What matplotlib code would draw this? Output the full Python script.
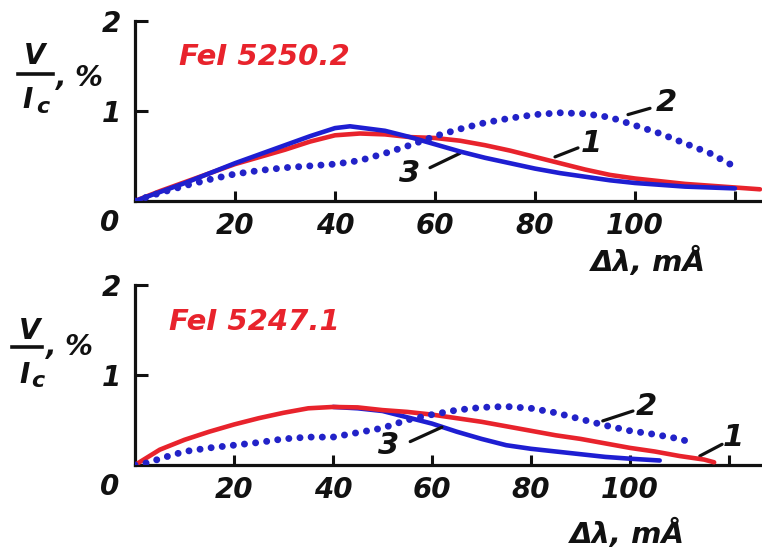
import numpy as np
import matplotlib
matplotlib.use("Agg")
import matplotlib.pyplot as plt
from matplotlib.lines import Line2D

# =========================
# Data
# =========================
# Top panel: FeI 5250.2
x_top_1 = [0, 5, 10, 15, 20, 25, 30, 35, 40, 45, 50, 55, 60, 65, 70, 75, 80,
           85, 90, 95, 100, 105, 110, 115, 120, 125]
y_top_1 = [0, 0.11, 0.21, 0.31, 0.41, 0.49, 0.57, 0.66, 0.73, 0.75, 0.74, 0.71,
           0.70, 0.67, 0.62, 0.56, 0.49, 0.42, 0.35, 0.29, 0.25, 0.22, 0.19,
           0.17, 0.15, 0.13]
x_top_3 = [0, 5, 10, 15, 20, 25, 30, 35, 40, 43, 50, 55, 60, 65, 70, 75, 80,
           85, 90, 95, 100, 105, 110, 115, 120]
y_top_3 = [0, 0.10, 0.20, 0.31, 0.42, 0.52, 0.62, 0.72, 0.81, 0.83, 0.78, 0.71,
           0.63, 0.55, 0.48, 0.42, 0.36, 0.31, 0.27, 0.23, 0.20, 0.18, 0.16,
           0.15, 0.14]
x_top_2 = [0, 5, 10, 15, 20, 25, 30, 35, 40, 45, 50, 55, 60, 65, 70, 75, 80,
           85, 90, 95, 100, 105, 110, 115, 120]
y_top_2 = [0, 0.09, 0.17, 0.24, 0.30, 0.34, 0.37, 0.39, 0.41, 0.45, 0.53, 0.62,
           0.72, 0.80, 0.87, 0.92, 0.96, 0.98, 0.97, 0.93, 0.84, 0.75, 0.64,
           0.53, 0.38]

# Bottom panel: FeI 5247.1
x_bot_1 = [0, 5, 10, 15, 20, 25, 30, 35, 40, 45, 50, 55, 60, 65, 70, 75, 80,
           85, 90, 95, 100, 105, 110, 115, 117]
y_bot_1 = [0, 0.17, 0.28, 0.37, 0.45, 0.52, 0.58, 0.63, 0.645, 0.64, 0.61,
           0.59, 0.56, 0.52, 0.48, 0.43, 0.38, 0.33, 0.29, 0.24, 0.19, 0.15,
           0.10, 0.06, 0.03]
x_bot_3 = [40, 45, 50, 55, 60, 65, 70, 75, 80, 85, 90, 95, 100, 106]
y_bot_3 = [0.645, 0.63, 0.60, 0.53, 0.46, 0.37, 0.29, 0.22, 0.18, 0.15, 0.12,
           0.09, 0.07, 0.05]
x_bot_2 = [0, 3, 5, 10, 15, 20, 25, 30, 35, 40, 45, 50, 55, 60, 65, 70, 75,
           80, 85, 90, 95, 100, 105, 110, 113]
y_bot_2 = [0, 0.03, 0.07, 0.15, 0.19, 0.22, 0.25, 0.29, 0.31, 0.31, 0.36, 0.41,
           0.50, 0.56, 0.61, 0.64, 0.65, 0.63, 0.58, 0.51, 0.44, 0.38, 0.34,
           0.29, 0.24]

x_ticks = [20, 40, 60, 80, 100, 120]
x_tick_labels = ["20", "40", "60", "80", "100", ""]
y_ticks = [1, 2]
y_tick_labels = ["1", "2"]

titles = ["FeI 5250.2", "FeI 5247.1"]

RED = "#e8232c"
BLUE = "#1e1ed2"
DOT = "#2222c8"
INK = "#111111"

W, H = 762, 548
FONT = dict(family="DejaVu Sans", weight="bold", style="italic", color=INK)

fig = plt.figure(figsize=(W / 100, H / 100), dpi=100)


def px(x, y):
    """pixel -> figure fraction"""
    return x / W, 1 - y / H


def setup_axes(ax, xmax):
    ax.set_xlim(0, xmax)
    ax.set_ylim(0, 2)
    for side in ["top", "right"]:
        ax.spines[side].set_visible(False)
    for side in ["left", "bottom"]:
        ax.spines[side].set_linewidth(2.3)
        ax.spines[side].set_color(INK)
    ax.set_xticks(x_ticks)
    ax.set_xticklabels(x_tick_labels, fontsize=20, **FONT)
    ax.set_yticks(y_ticks)
    ax.set_yticklabels(y_tick_labels, fontsize=20, **FONT)
    ax.tick_params(axis="x", direction="in", length=7, width=2.2, pad=8, color=INK)
    ax.tick_params(axis="y", direction="in", length=9, width=2.2, pad=10, color=INK)
    ax.patch.set_alpha(0)
    # origin "0"
    ax.annotate("0", xy=(0, 0), xytext=(-25, -22), textcoords="offset pixels",
                ha="center", va="center", fontsize=20, **FONT)


def curve_label(ax, text, xy_from, xy_to, xy_text):
    ax.annotate("", xy=xy_from, xytext=xy_to,
                arrowprops=dict(arrowstyle="-", lw=2.3, color=INK,
                                shrinkA=0, shrinkB=0))
    ax.text(*xy_text, text, ha="center", va="center", fontsize=22, **FONT)


def ylabel(x_v, y_v, bar, x_i, y_i, x_c, y_c, x_pc, y_pc):
    fig.text(*px(x_v, y_v), "V", ha="center", va="center", fontsize=20, **FONT)
    (bx0, bx1, by) = bar
    fig.add_artist(Line2D([bx0 / W, bx1 / W], [1 - by / H, 1 - by / H],
                          color=INK, lw=2.6, transform=fig.transFigure))
    fig.text(*px(x_i, y_i), "I", ha="center", va="center", fontsize=20, **FONT)
    fig.text(*px(x_c, y_c), "c", ha="center", va="center", fontsize=16, **FONT)
    fig.text(*px(x_pc, y_pc), ", %", ha="center", va="center", fontsize=20, **FONT)


dot_style = dict(color=DOT, lw=5.0, linestyle=(0, (0.01, 1.6)),
                 dash_capstyle="round", solid_capstyle="round")

# =========================
# Top panel
# =========================
ax1 = fig.add_axes([135 / W, 1 - 201 / H, (W - 135) / W, 180 / H])
setup_axes(ax1, (W - 135) / 5.0)
ax1.plot(x_top_1, y_top_1, color=RED, lw=3.3, solid_capstyle="round", zorder=3)
ax1.plot(x_top_3, y_top_3, color=BLUE, lw=3.3, solid_capstyle="round", zorder=4)
ax1.plot(x_top_2, y_top_2, zorder=5, **dot_style)
curve_label(ax1, "1", (84, 0.49), (88.6, 0.59), (91.2, 0.64))
curve_label(ax1, "2", (98.6, 0.96), (103, 1.03), (106.2, 1.09))
curve_label(ax1, "3", (65, 0.53), (59, 0.37), (55, 0.31))
fig.text(*px(264, 57), titles[0], ha="center", va="center", fontsize=21,
         family="DejaVu Sans", weight="bold", style="italic", color=RED)
fig.text(*px(648, 262), "Δλ, mÅ", ha="center", va="center", fontsize=21, **FONT)
ylabel(35, 56, (18, 53, 74), 28, 100, 43, 107, 80, 78)

# =========================
# Bottom panel
# =========================
ax2 = fig.add_axes([135 / W, 1 - 465 / H, (760 - 135) / W, 180 / H])
setup_axes(ax2, (760 - 135) / 4.95)
ax2.plot(x_bot_3, y_bot_3, color=BLUE, lw=3.3, solid_capstyle="round", zorder=3)
ax2.plot(x_bot_1, y_bot_1, color=RED, lw=3.3, solid_capstyle="round", zorder=4)
ax2.plot(x_bot_2, y_bot_2, zorder=5, **dot_style)
curve_label(ax2, "1", (114.1, 0.10), (118.6, 0.23), (120.8, 0.31))
curve_label(ax2, "2", (94.5, 0.49), (100.6, 0.60), (103.4, 0.65))
curve_label(ax2, "3", (62, 0.42), (55.6, 0.26), (51.3, 0.22))
fig.text(*px(254, 322), titles[1], ha="center", va="center", fontsize=21,
         family="DejaVu Sans", weight="bold", style="italic", color=RED)
fig.text(*px(627, 534), "Δλ, mÅ", ha="center", va="center", fontsize=21, **FONT)
ylabel(30, 331, (12, 42, 347), 25, 375, 38, 381, 70, 347)

fig.savefig("out.png", dpi=100)
